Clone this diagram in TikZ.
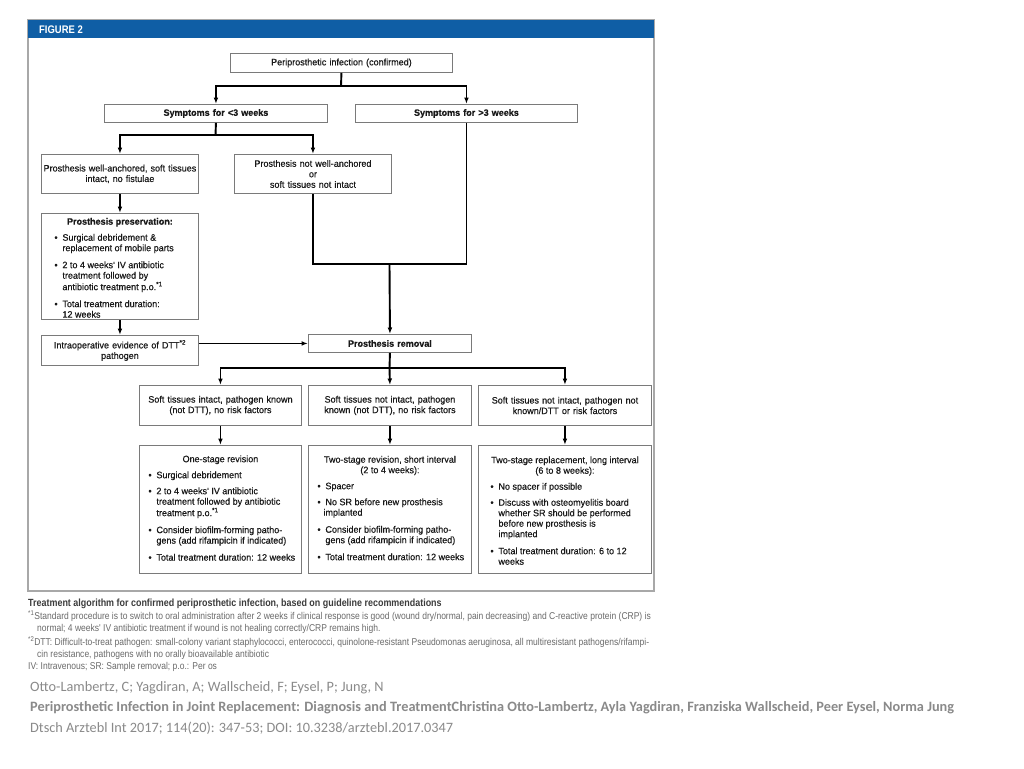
\documentclass[tikz,border=0pt]{standalone}
\usepackage{fontspec}
\setmainfont{Liberation Sans}
\newfontfamily\boxfam{Liberation Sans}[FakeStretch=0.97,FakeBold=0.5]
\newfontfamily\capfont{Liberation Sans}[FakeStretch=0.86]
\newfontfamily\citefont{Carlito}
\usetikzlibrary{arrows.meta}
\definecolor{hdrblue}{HTML}{0F5EA5}
\definecolor{framegray}{HTML}{A8A8A8}
\definecolor{boxgray}{HTML}{7A7A7A}
\definecolor{capgray}{HTML}{6A6A6A}
\definecolor{capdark}{HTML}{3C3C3C}
\definecolor{citegray}{HTML}{8A8A8A}
\newlength\bind
\newcommand\bitem[1]{\par\vspace{5.5pt}\noindent\hspace*{\bind}\makebox[8pt][l]{\textbullet}\begin{tabular}[t]{@{}l@{}}#1\end{tabular}\par}
\newcommand\boxfont{\boxfam\fontsize{9.3}{10.5}\selectfont}
\begin{document}
\begin{tikzpicture}[x=1pt,y=-1pt,
  box/.style={draw=boxgray, line width=0.9pt, fill=white, inner sep=0pt, anchor=north west, font=\boxfont, text=black!90},
  cbox/.style={box, align=center},
  ln/.style={line width=1.9pt},
  arr/.style={line width=1.9pt, -{Latex[length=6.5pt,width=4.8pt]}},
  captxt/.style={anchor=base west, inner sep=0pt, text=capgray, font=\capfont\fontsize{9.9}{11}\selectfont},
  citetxt/.style={anchor=base west, inner sep=0pt, text=citegray, font=\citefont\fontsize{14.3}{16}\selectfont}]
\useasboundingbox (0,0) rectangle (1024,768);
\fill[white] (0,0) rectangle (1024,768);
% frame and header
\draw[framegray, line width=1.2pt] (28,20) rectangle (654,591);
\fill[hdrblue] (28,20) rectangle (654,38);
\node[anchor=base west, inner sep=0pt, text=white, font=\capfont\bfseries\fontsize{11}{12}\selectfont] (fig) at (39,33.5) {FIGURE 2};
% boxes
\node[cbox, minimum width=222pt, minimum height=19pt, text width=218pt] (conf) at (230,53) {Periprosthetic infection (confirmed)};
\node[cbox, minimum width=223pt, minimum height=18pt, text width=219pt, font=\boxfont\bfseries] (s3lt) at (104,104) {Symptoms for <3 weeks};
\node[cbox, minimum width=222pt, minimum height=18pt, text width=218pt, font=\boxfont\bfseries] (s3gt) at (355,104) {Symptoms for >3 weeks};
\node[cbox, minimum width=157pt, minimum height=39pt, text width=157pt] (wa) at (41,154) {Prosthesis well-anchored, soft tissues\\intact, no fistulae};
\node[cbox, minimum width=157pt, minimum height=39pt, text width=155pt] (nwa) at (234,154) {Prosthesis not well-anchored\\or\\soft tissues not intact};
\node[box] (pres) at (41,213) {\parbox[c][106pt][t]{157pt}{\vspace*{4.5pt}\centering\textbf{Prosthesis preservation:}\par\raggedright\setlength\bind{13pt}%
\bitem{Surgical debridement \&\\replacement of mobile parts}%
\bitem{2 to 4 weeks' IV antibiotic\\treatment followed by\\antibiotic treatment p.o.\textsuperscript{*1}}%
\bitem{Total treatment duration:\\12 weeks}}};
\node[cbox, minimum width=157pt, minimum height=30pt, text width=155pt] (intra) at (41,335) {Intraoperative evidence of DTT\textsuperscript{*2}\\pathogen};
\node[cbox, minimum width=163pt, minimum height=18pt, text width=159pt, font=\boxfont\bfseries] (rem) at (308,334) {Prosthesis removal};
\node[cbox, minimum width=162pt, minimum height=40pt, text width=160pt] (c1) at (139,385) {Soft tissues intact, pathogen known\\(not DTT), no risk factors};
\node[cbox, minimum width=163pt, minimum height=40pt, text width=161pt] (c2) at (308,385) {Soft tissues not intact, pathogen\\known (not DTT), no risk factors};
\node[cbox, minimum width=173pt, minimum height=40pt, text width=171pt] (c3) at (478,385) {Soft tissues not intact, pathogen not\\known/DTT or risk factors};
\node[box] (t1) at (139,445) {\parbox[c][128pt][t]{162pt}{\vspace*{10pt}\centering One-stage revision\par\raggedright\setlength\bind{9pt}%
\bitem{Surgical debridement}%
\bitem{2 to 4 weeks' IV antibiotic\\treatment followed by antibiotic\\treatment p.o.\textsuperscript{*1}}%
\bitem{Consider biofilm-forming patho-\\gens (add rifampicin if indicated)}%
\bitem{Total treatment duration: 12 weeks}}};
\node[box] (t2) at (308,445) {\parbox[c][128pt][t]{163pt}{\vspace*{10.5pt}\centering Two-stage revision, short interval\\(2 to 4 weeks):\par\raggedright\setlength\bind{9pt}%
\bitem{Spacer}%
\bitem{No SR before new prosthesis\\\hspace*{-2pt}implanted}%
\bitem{Consider biofilm-forming patho-\\gens (add rifampicin if indicated)}%
\bitem{Total treatment duration: 12 weeks}}};
\node[box] (t3) at (478,445) {\parbox[c][128pt][t]{173pt}{\vspace*{11pt}\centering Two-stage replacement, long interval\\(6 to 8 weeks):\par\raggedright\setlength\bind{12pt}%
\bitem{No spacer if possible}%
\bitem{Discuss with osteomyelitis board\\whether SR should be performed\\before new prosthesis is\\implanted}%
\bitem{Total treatment duration: 6 to 12\\weeks}}};
% connectors
\coordinate (j1) at (341,86);
\draw[ln] (conf.south) -- (j1);
\draw[arr] (j1) -| (s3lt.north);
\draw[arr] (j1) -| (s3gt.north);
\coordinate (j2) at (215.5,135);
\draw[ln] (s3lt.south) -- (j2);
\draw[arr] (j2) -| (wa.north);
\draw[arr] (j2) -| (nwa.north);
\draw[arr] (wa.south) -- (pres.north);
\draw[arr] (pres.south) -- (intra.north);
\coordinate (j3) at (389.5,264);
\draw[ln] (nwa.south) |- (j3);
\draw[ln] (s3gt.south) |- (j3);
\draw[arr] (j3) -- (rem.north);
\draw[arr] (intra.east |- rem.west) -- (rem.west);
\coordinate (j4) at (389.5,368);
\draw[ln] (rem.south) -- (j4);
\draw[arr] (j4) -| (c1.north);
\draw[arr] (j4) -- (c2.north);
\draw[arr] (j4) -| (c3.north);
\draw[arr] (c1.south) -- (t1.north);
\draw[arr] (c2.south) -- (t2.north);
\draw[arr] (c3.south) -- (t3.north);
% caption
\node[captxt, font=\capfont\bfseries\fontsize{10.4}{11}\selectfont, text=capdark] (cap0) at (28,606.5) {Treatment algorithm for confirmed periprosthetic infection, based on guideline recommendations};
\node[captxt] (cap1) at (28,619.5) {\textsuperscript{*1}Standard procedure is to switch to oral administration after 2 weeks if clinical response is good (wound dry/normal, pain decreasing) and C-reactive protein (CRP) is};
\node[captxt] (cap2) at (37,631.5) {normal; 4 weeks' IV antibiotic treatment if wound is not healing correctly/CRP remains high.};
\node[captxt] (cap3) at (28,645.5) {\textsuperscript{*2}DTT: Difficult-to-treat pathogen: small-colony variant staphylococci, enterococci, quinolone-resistant Pseudomonas aeruginosa, all multiresistant pathogens/rifampi-};
\node[captxt] (cap4) at (37,657.5) {cin resistance, pathogens with no orally bioavailable antibiotic};
\node[captxt] (cap5) at (28,669.5) {IV: Intravenous; SR: Sample removal; p.o.: Per os};
% citation
\node[citetxt] (cit1) at (30,691) {Otto-Lambertz, C; Yagdiran, A; Wallscheid, F; Eysel, P; Jung, N};
\node[citetxt, font=\citefont\bfseries\fontsize{14.3}{16}\selectfont] (cit2) at (30,711) {Periprosthetic Infection in Joint Replacement: Diagnosis and TreatmentChristina Otto-Lambertz, Ayla Yagdiran, Franziska Wallscheid, Peer Eysel, Norma Jung};
\node[citetxt] (cit3) at (30,732) {Dtsch Arztebl Int 2017; 114(20): 347-53; DOI: 10.3238/arztebl.2017.0347};
\end{tikzpicture}
\end{document}
